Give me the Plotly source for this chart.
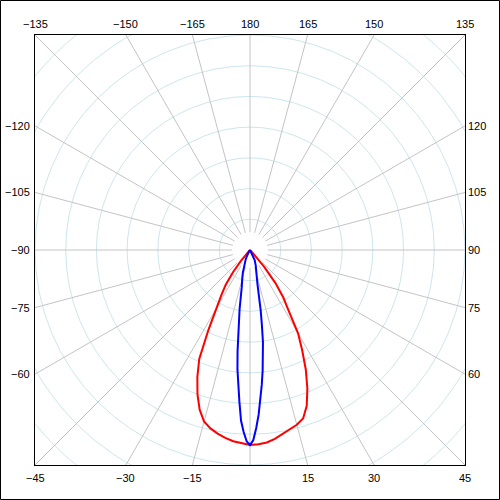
"""
Polar light distribution curve (two C-planes) drawn in a square frame
"""

import numpy as np
import plotly.graph_objects as go

# gamma angles (deg) and intensities (cd/klm)
red_angles = [0, 2.5, 5, 7.5, 10, 12.5, 15, 17.5, 20, 22.5, 25, 27.5, 30,
              32.5, 35, 37.5, 40, 42.5, 45]
red_left = [635, 630, 625, 617, 607, 595, 578, 545, 500, 448, 391, 293, 215,
            173, 137, 91, 46, 16, 0]
red_right = [635, 633, 629, 620, 609, 599, 589, 575, 540, 488, 430, 368, 313,
             234, 189, 137, 72, 16, 0]

blue_angles = [0, 1, 2, 3, 4, 5, 6, 7, 8, 9, 10, 12.5, 15, 17.5, 20, 25, 30, 35]
blue_left = [635, 623, 593, 557, 495, 440, 391, 332, 267, 228, 195, 124, 98,
             78, 62, 33, 10, 0]
blue_right = [633, 619, 580, 537, 488, 440, 394, 345, 303, 247, 202, 111, 88,
              68, 55, 36, 13, 0]

ring_values = [100, 200, 300, 400, 500, 600, 700, 800, 900, 1000]
spoke_angles = list(range(-180, 180, 15))

top_labels = [-135, -150, -165, 180, 165, 150, 135]
bottom_labels = [-45, -30, -15, 15, 30, 45]
left_labels = [-120, -105, -90, -75, -60]
right_labels = [120, 105, 90, 75, 60]

R = 700  # half size of the frame in data units


def to_xy(angles, values):
    a = np.radians(angles)
    v = np.asarray(values, dtype=float)
    return v * np.sin(a), -v * np.cos(a)


def curve(angles, left, right):
    ang = [-a for a in angles[::-1]] + list(angles[1:])
    val = list(left[::-1]) + list(right[1:])
    return to_xy(ang, val)


def edge(v):
    # keep label anchors inside the axis range (rounding at the corners)
    return float(np.clip(round(v, 6), -R, R))


def fmt(v):
    return str(v).replace("-", "\u2212")


fig = go.Figure()

shapes = []
for r in ring_values:
    shapes.append(dict(type="circle", xref="x", yref="y", x0=-r, x1=r,
                       y0=-r, y1=r, line=dict(color="#cde6ee", width=1),
                       layer="below"))
for a in spoke_angles:
    (x0, x1), (y0, y1) = to_xy([a, a], [58, 1100])
    shapes.append(dict(type="line", xref="x", yref="y", x0=x0, x1=x1,
                       y0=y0, y1=y1, line=dict(color="#c4c4c4", width=1),
                       layer="below"))
# outer border of the image
shapes.append(dict(type="rect", xref="paper", yref="paper",
                   x0=-34.5 / 430, x1=464.5 / 430, y0=-34.5 / 430, y1=464.5 / 430,
                   line=dict(color="black", width=1)))

x, y = curve(red_angles, red_left, red_right)
fig.add_trace(go.Scatter(x=x, y=y, mode="lines", hoverinfo="skip",
                         line=dict(color="#ff0000", width=2)))
x, y = curve(blue_angles, blue_left, blue_right)
fig.add_trace(go.Scatter(x=x, y=y, mode="lines", hoverinfo="skip",
                         line=dict(color="#0000ff", width=2)))

font = dict(family="Liberation Sans, Arial", size=11, color="black")
ann = []
for a in top_labels:
    t = np.radians(a)
    ann.append(dict(x=edge(R * np.sin(t) / -np.cos(t)), y=1, xref="x",
                    yref="paper", text=fmt(a), showarrow=False,
                    yanchor="bottom", yshift=3, font=font))
for a in bottom_labels:
    t = np.radians(a)
    ann.append(dict(x=edge(R * np.sin(t) / np.cos(t)), y=0, xref="x",
                    yref="paper", text=fmt(a), showarrow=False,
                    yanchor="top", yshift=-5, font=font))
for a in left_labels:
    t = np.radians(a)
    ann.append(dict(x=0, y=edge(R * np.cos(t) / np.sin(t)), xref="paper",
                    yref="y", text=fmt(a), showarrow=False, xanchor="right",
                    xshift=-3, font=font))
for a in right_labels:
    t = np.radians(a)
    ann.append(dict(x=1, y=edge(-R * np.cos(t) / np.sin(t)), xref="paper",
                    yref="y", text=fmt(a), showarrow=False, xanchor="left",
                    xshift=1, font=font))

axis = dict(range=[-R, R], showgrid=False, zeroline=False, showticklabels=False,
            ticks="", showline=True, mirror=True, linecolor="black", linewidth=1,
            fixedrange=True)
fig.update_xaxes(**axis)
fig.update_yaxes(**axis)
fig.update_layout(width=500, height=500, margin=dict(l=35, r=35, t=35, b=35),
                  paper_bgcolor="white", plot_bgcolor="white", showlegend=False,
                  shapes=shapes, annotations=ann)

fig.write_html("out.html", config={"displayModeBar": False},
               post_script="document.body.style.margin='0';")
